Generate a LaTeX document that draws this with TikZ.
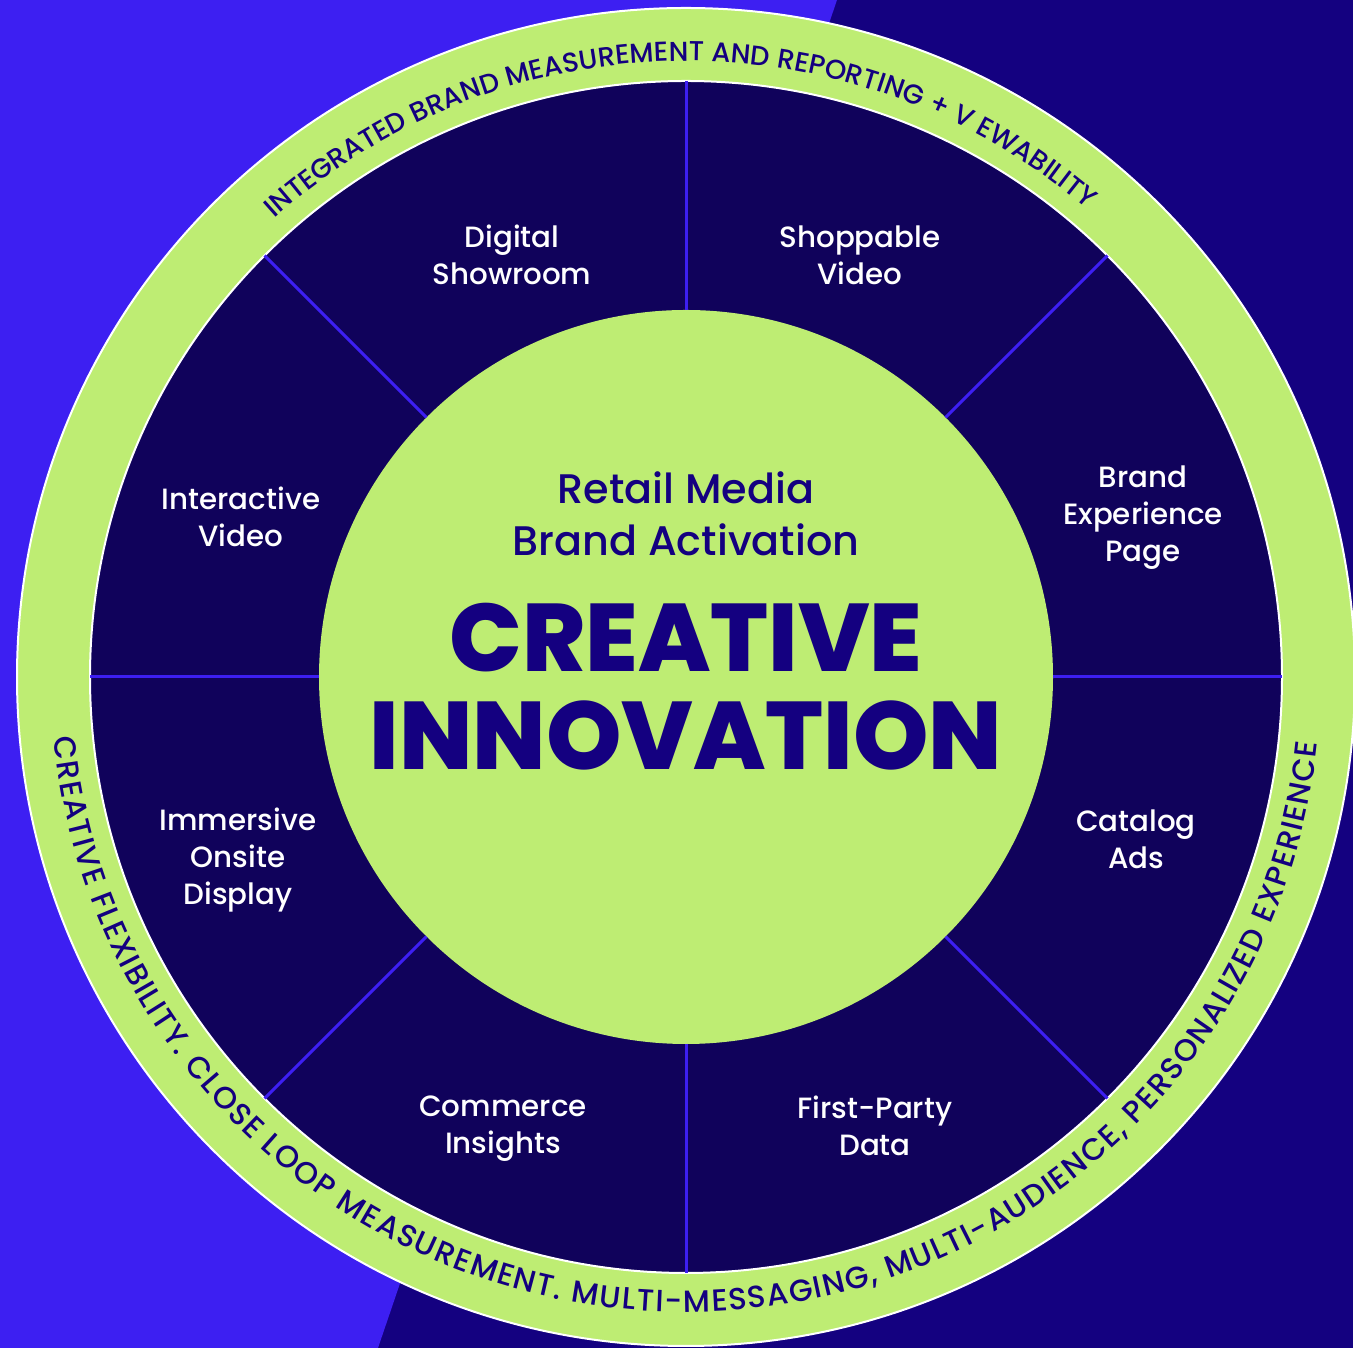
\documentclass[tikz,border=0pt]{standalone}
\usepackage{fontspec}
\setmainfont{Poppins}
\newfontfamily\mediumfont{Poppins Medium}
\newfontfamily\heavyfont{Poppins ExtraBold}
\usetikzlibrary{decorations.text}

\definecolor{bgBlue}{RGB}{61,31,242}
\definecolor{bgNavy}{RGB}{20,1,128}
\definecolor{wheelNavy}{RGB}{16,2,91}
\definecolor{limeGreen}{RGB}{190,237,115}
\definecolor{inkNavy}{RGB}{20,0,128}

\newcommand\topringfont{\mediumfont\fontsize{20.5}{21}\selectfont\color{inkNavy}}
\newcommand\botringfont{\mediumfont\fontsize{23}{24}\selectfont\color{inkNavy}}

\begin{document}
\begin{tikzpicture}[x=0.75pt,y=0.75pt,
  spoke/.style={draw=bgBlue, line width=2.25pt},
  seglabel/.style={text=white, align=center, inner sep=0pt, font=\mediumfont\fontsize{22}{27.75}\selectfont},
  hubsub/.style={text=inkNavy, anchor=base, inner sep=0pt, font=\mediumfont\fontsize{31}{38}\selectfont},
  hubtitle/.style={text=inkNavy, anchor=base, inner sep=0pt, font=\heavyfont\fontsize{72}{72}\selectfont},
  disc/.style={circle, inner sep=0pt, outer sep=0pt}]
\useasboundingbox (0,0) rectangle (1353,1348);

%Background split
\fill [bgNavy] (0,0) rectangle (1353,1348);
\fill [bgBlue] (0,0) -- (378,0) -- (837,1348) -- (0,1348) -- cycle;

%Shape: Circle, lime ring
\node (ring) [disc, fill=limeGreen, draw=white, line width=1.5pt, minimum size=1003.5pt] at (686,671) {};
%Shape: Circle, navy wheel
\node (wheel) [disc, fill=wheelNavy, draw=white, line width=1.5pt, minimum size=894pt] at (686,671) {};
%Shape: Circle, hub
\node (hub) [disc, fill=limeGreen, minimum size=550.5pt] at (686,671) {};

%Straight Lines, spokes
\draw [spoke] (hub.north) -- (wheel.north);
\draw [spoke] (hub.north east) -- (wheel.north east);
\draw [spoke] (hub.east) -- (wheel.east);
\draw [spoke] (hub.south east) -- (wheel.south east);
\draw [spoke] (hub.south) -- (wheel.south);
\draw [spoke] (hub.south west) -- (wheel.south west);
\draw [spoke] (hub.west) -- (wheel.west);
\draw [spoke] (hub.north west) -- (wheel.north west);

% Text Node
\node (digital) at (512,1093) [seglabel] {Digital\\Showroom};
% Text Node
\node (shoppable) at (860,1093) [seglabel] {Shoppable\\Video};
% Text Node
\node (interactive) at (241,831) [seglabel] {Interactive\\Video};
% Text Node
\node (experience) at (1143,830) [seglabel] {Brand\\Experience\\Page};
% Text Node
\node (immersive) at (238,488) [seglabel] {Immersive\\Onsite\\Display};
% Text Node
\node (catalog) at (1136,509) [seglabel] {Catalog\\Ads};
% Text Node
\node (commerce) at (503,219) [seglabel] {Commerce\\Insights};
% Text Node
\node (firstparty) at (875,222) [seglabel] {First-Party\\Data};

% Text Node
\node (retail) at (686,844) [hubsub] {Retail Media};
% Text Node
\node (activation) at (686,792) [hubsub] {Brand Activation};
% Text Node
\node (creative) at (686,676) [hubtitle] {CREATIVE};
% Text Node
\node (innovation) at (686,578) [hubtitle] {INNOVATION};

%Curve Lines, ring captions
\path [decorate, decoration={text along path, text align=fit to path,
  text={|\topringfont|INTEGRATED BRAND MEASUREMENT AND REPORTING + V EWABILITY}}]
  (686,671) ++(131.9:616) arc [start angle=131.9, end angle=50.1, radius=616];
\path [decorate, decoration={text along path, text align=fit to path,
  text={|\botringfont|CREATIVE FLEXIBILITY. CLOSE LOOP MEASUREMENT. MULTI-MESSAGING, MULTI-AUDIENCE, PERSONALIZED EXPERIENCE}}]
  (686,671) ++(185.5:635) arc [start angle=185.5, end angle=354, radius=635];

\end{tikzpicture}
\end{document}
